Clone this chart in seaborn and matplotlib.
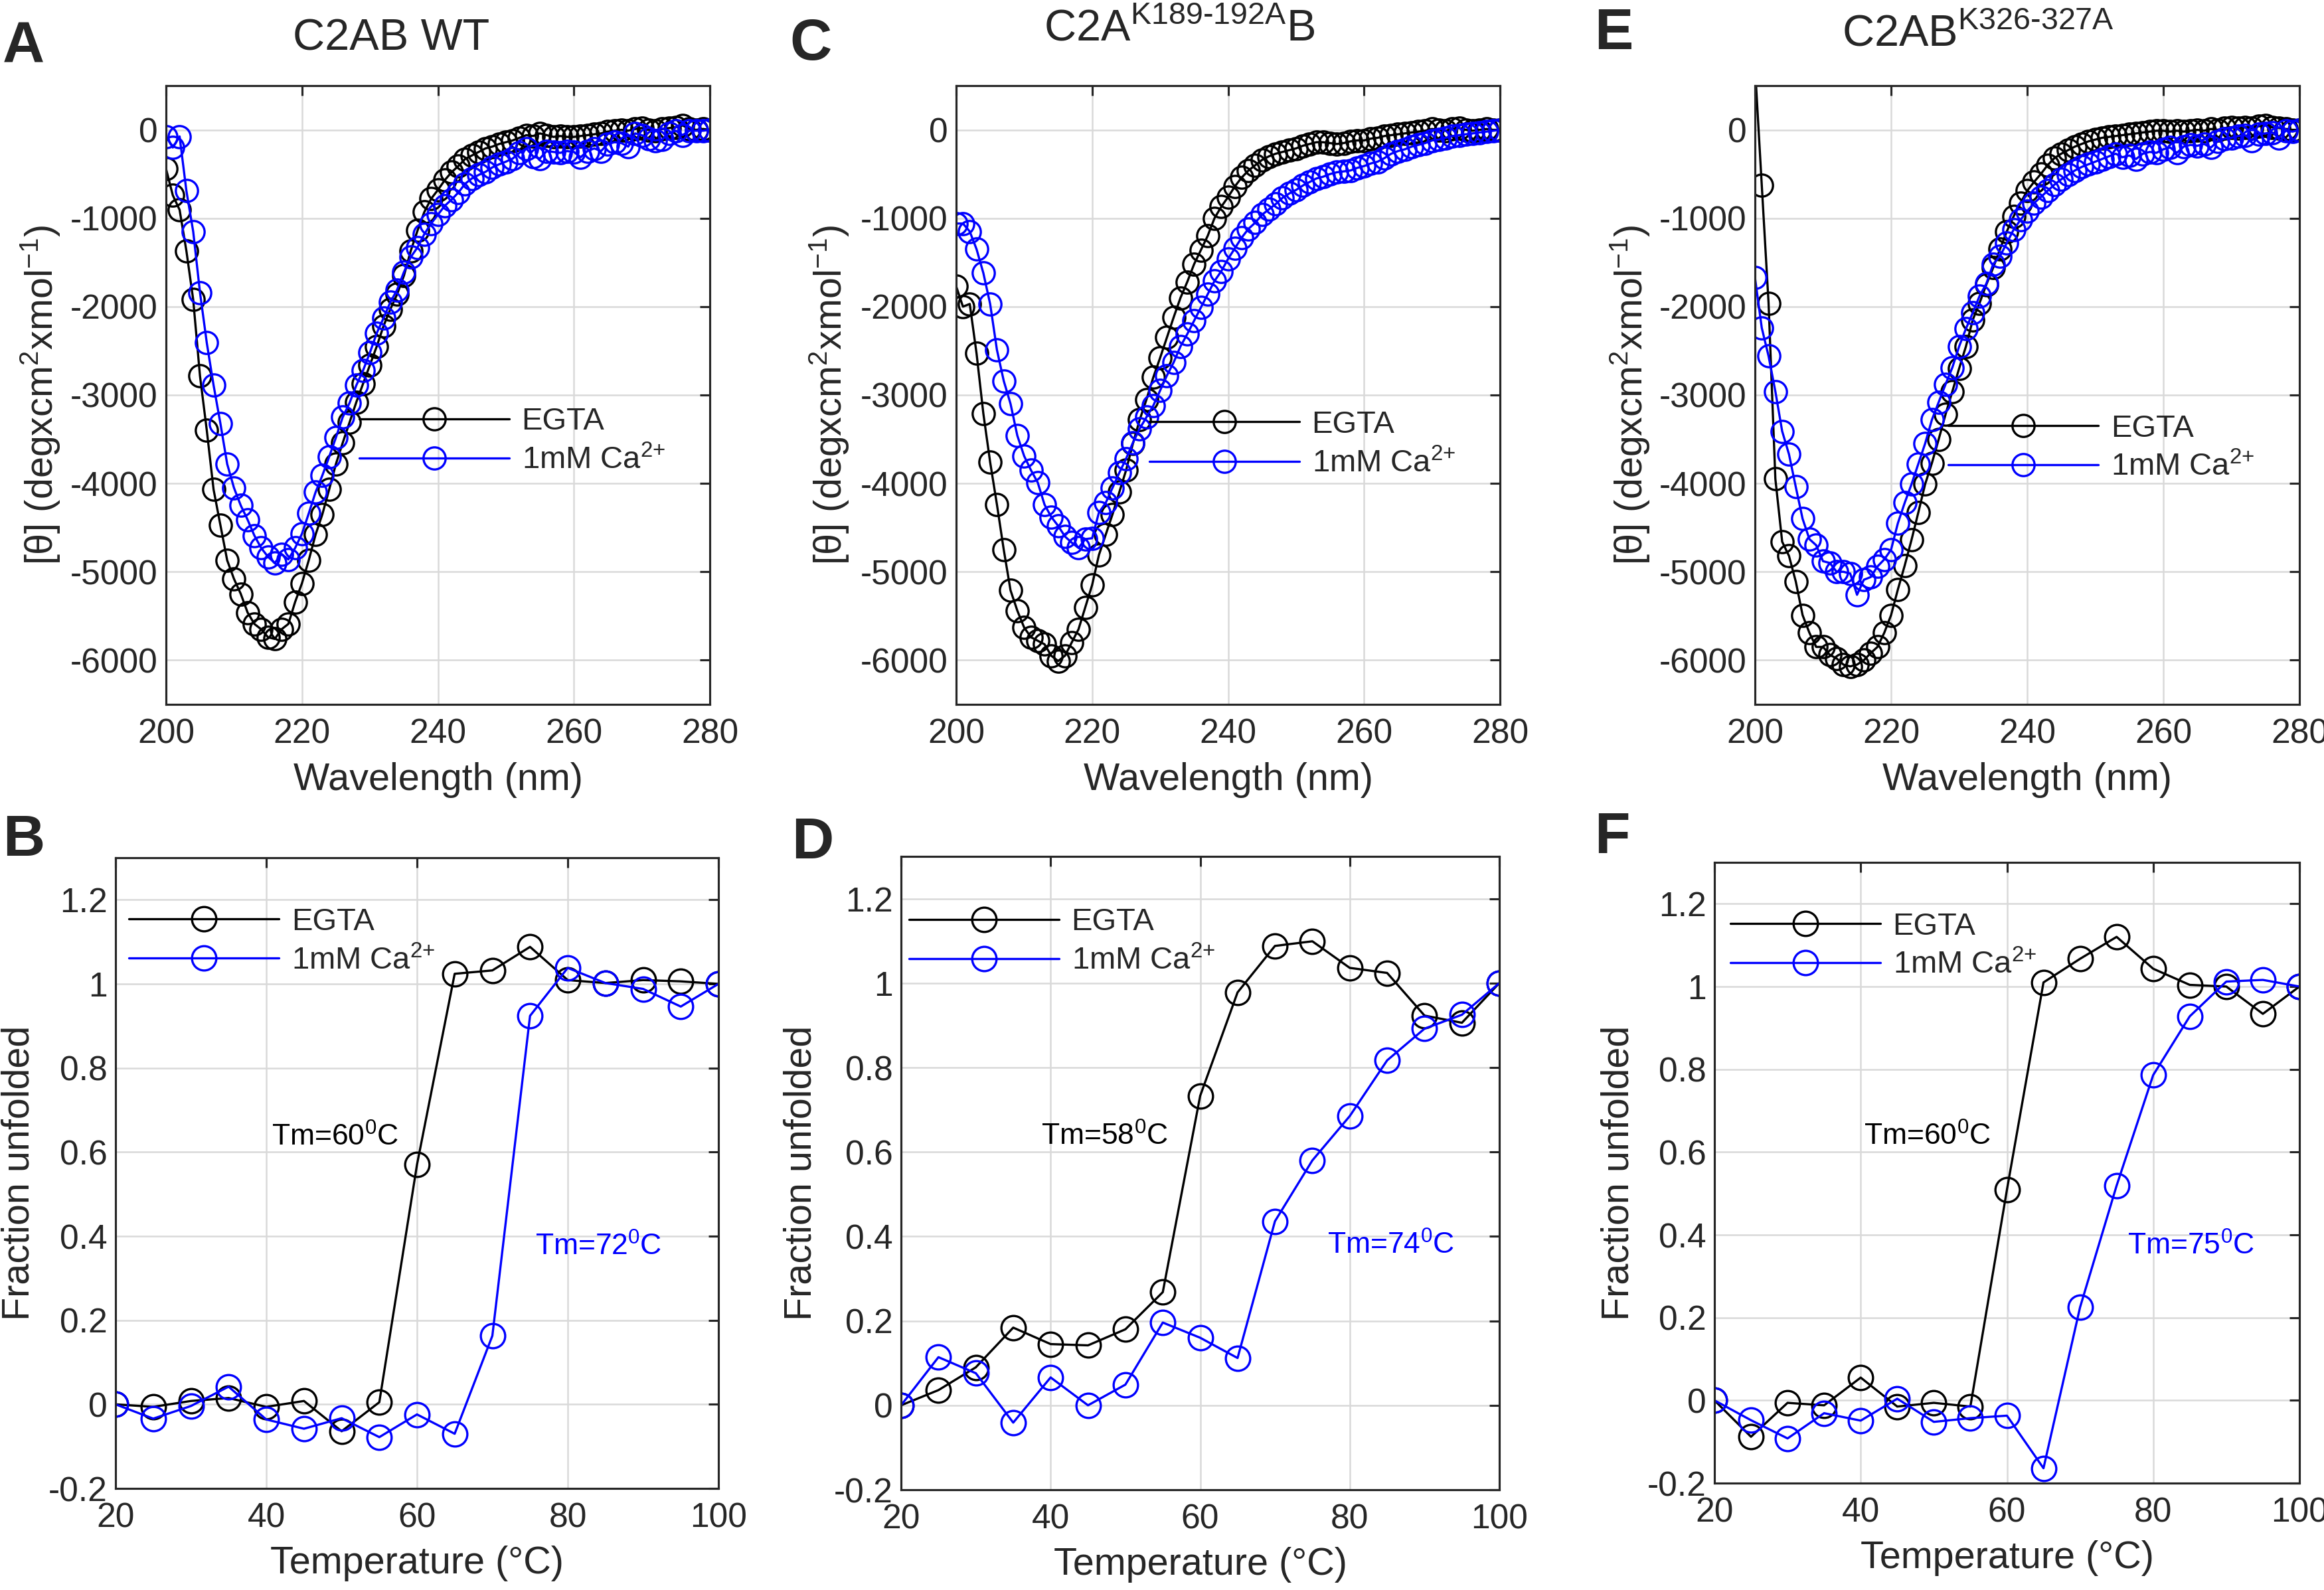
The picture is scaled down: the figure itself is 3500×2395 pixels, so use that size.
import matplotlib
matplotlib.use("Agg")
import matplotlib.pyplot as plt
import seaborn as sns

# ---- data ----
wavelength = list(range(200, 281))
temperature = list(range(20, 101, 5))

# CD spectra, [theta] in deg cm2 dmol-1 (200..280 nm, 1 nm step)
cd_wt_egta = [
    -440, -740, -905, -1370, -1920, -2785, -3400, -4070, -4470, -4870,
    -5080, -5250, -5460, -5590, -5650, -5740, -5760, -5650, -5590, -5340,
    -5130, -4870, -4580, -4350, -4070, -3780, -3540, -3310, -3080, -2870,
    -2660, -2450, -2220, -2030, -1860, -1650, -1370, -1140, -930, -780,
    -680, -570, -480, -410, -330, -290, -250, -210, -190, -160,
    -140, -120, -90, -60, -70, -40, -60, -80, -70, -80,
    -80, -70, -60, -50, -40, -20, -10, 0, -10, 10,
    20, 0, -10, 10, 20, 30, 50, 10, 0, 10,
    0]
cd_wt_ca = [
    -75, -200, -75, -690, -1150, -1840, -2410, -2890, -3320, -3780,
    -4050, -4250, -4410, -4590, -4730, -4830, -4900, -4800, -4860, -4730,
    -4570, -4340, -4100, -3910, -3700, -3480, -3250, -3090, -2890, -2720,
    -2520, -2300, -2130, -1950, -1810, -1610, -1440, -1330, -1180, -1060,
    -960, -860, -790, -710, -610, -550, -510, -475, -425, -390,
    -360, -325, -260, -210, -300, -325, -240, -250, -260, -240,
    -250, -310, -240, -210, -240, -160, -140, -150, -190, -40,
    -60, -100, -120, -110, -40, -10, -60, -10, -10, -10,
    0]
cd_k189_egta = [
    -1770, -2000, -1970, -2530, -3210, -3760, -4240, -4750, -5210, -5440,
    -5630, -5740, -5780, -5820, -5950, -6010, -5950, -5800, -5650, -5400,
    -5150, -4810, -4580, -4350, -4100, -3850, -3550, -3280, -3050, -2800,
    -2580, -2350, -2120, -1900, -1720, -1520, -1360, -1200, -1000, -870,
    -760, -640, -540, -460, -400, -340, -300, -270, -250, -230,
    -210, -180, -160, -140, -140, -150, -160, -150, -130, -120,
    -120, -100, -90, -70, -60, -50, -40, -30, -20, -10,
    10, 0, -10, 10, 20, 0, -10, 0, 10, 0,
    0]
cd_k189_ca = [
    -1060, -1060, -1150, -1350, -1620, -1970, -2490, -2840, -3100, -3460,
    -3690, -3850, -3990, -4240, -4380, -4480, -4600, -4670, -4730, -4630,
    -4620, -4330, -4220, -4050, -3880, -3720, -3540, -3380, -3250, -3120,
    -2950, -2780, -2630, -2450, -2310, -2160, -2010, -1860, -1710, -1600,
    -1460, -1340, -1220, -1120, -1050, -960, -900, -840, -770, -720,
    -680, -630, -590, -550, -530, -500, -480, -470, -460, -430,
    -410, -380, -360, -320, -270, -240, -220, -190, -170, -150,
    -120, -110, -90, -70, -60, -50, -40, -30, -20, -10,
    0]
cd_k326_egta = [
    720, -625, -1960, -3950, -4660, -4820, -5110, -5490, -5690, -5850,
    -5850, -5940, -5980, -6050, -6070, -6050, -6000, -5920, -5850, -5690,
    -5490, -5200, -4930, -4640, -4330, -4010, -3770, -3500, -3220, -2960,
    -2700, -2450, -2150, -1960, -1750, -1560, -1350, -1150, -980, -830,
    -690, -590, -500, -400, -320, -270, -230, -190, -160, -130,
    -110, -90, -80, -70, -60, -50, -40, -30, -20, -10,
    -10, -20, -10, -20, -10, 0, -10, 10, 0, 20,
    30, 20, 30, 20, 40, 50, 30, 20, 10, 0,
    0]
cd_k326_ca = [
    -1670, -2240, -2560, -2960, -3410, -3670, -4040, -4400, -4630, -4700,
    -4880, -4900, -5000, -5000, -5020, -5260, -5090, -5060, -4940, -4860,
    -4750, -4450, -4220, -4010, -3780, -3550, -3280, -3080, -2880, -2690,
    -2450, -2250, -2070, -1880, -1740, -1520, -1430, -1280, -1130, -1020,
    -920, -830, -760, -690, -620, -560, -510, -460, -420, -390,
    -360, -330, -300, -270, -310, -290, -330, -270, -250, -260,
    -220, -200, -260, -190, -170, -180, -160, -200, -130, -100,
    -90, -70, -60, -120, -50, -40, -30, -90, -10, -20,
    0]

# thermal melts, fraction unfolded (20..100 C, 5 C step)
fu_wt_egta = [0, -0.006, 0.008, 0.015, -0.006, 0.008, -0.064, 0.005, 0.570,
              1.024, 1.032, 1.088, 1.009, 1.002, 1.009, 1.006, 1.0]
fu_wt_ca = [0, -0.034, -0.004, 0.042, -0.036, -0.058, -0.033, -0.078, -0.024,
            -0.070, 0.163, 0.924, 1.038, 1.002, 0.988, 0.946, 1.0]
fu_k189_egta = [0, 0.036, 0.090, 0.184, 0.145, 0.142, 0.180, 0.268, 0.733,
                0.978, 1.088, 1.099, 1.036, 1.024, 0.923, 0.906, 1.0]
fu_k189_ca = [0, 0.114, 0.076, -0.041, 0.066, 0.0, 0.049, 0.196, 0.160,
              0.112, 0.436, 0.580, 0.685, 0.817, 0.892, 0.925, 1.0]
fu_k326_egta = [0, -0.088, -0.006, -0.012, 0.055, -0.015, -0.006, -0.015, 0.509,
                1.010, 1.067, 1.120, 1.043, 1.004, 1.0, 0.934, 1.0]
fu_k326_ca = [0, -0.048, -0.092, -0.031, -0.049, 0.004, -0.052, -0.043, -0.037,
              -0.164, 0.225, 0.519, 0.786, 0.928, 1.012, 1.016, 1.0]

titles = ["C2AB WT",
          "C2A$\\mathregular{^{K189\u2010192A}}$B",
          "C2AB$\\mathregular{^{K326\u2010327A}}$"]
tm_egta = ["Tm=60$\\mathregular{^0}$C", "Tm=58$\\mathregular{^0}$C", "Tm=60$\\mathregular{^0}$C"]
tm_ca = ["Tm=72$\\mathregular{^0}$C", "Tm=74$\\mathregular{^0}$C", "Tm=75$\\mathregular{^0}$C"]
series_labels = ["EGTA", "1mM Ca$\\mathregular{^{2{+}}}$"]

# ---- style ----
sns.set_style("white")
plt.rcParams['font.family'] = ['Liberation Sans', 'DejaVu Sans']
plt.rcParams['mathtext.fontset'] = 'custom'
plt.rcParams['mathtext.rm'] = 'Liberation Sans'
plt.rcParams['mathtext.it'] = 'Liberation Sans:italic'
plt.rcParams['mathtext.bf'] = 'Liberation Sans:bold'
plt.rcParams['axes.unicode_minus'] = False

W, H = 3500, 2395
fig = plt.figure(figsize=(W / 300, H / 300), dpi=300)


def box(l, t, r, b):
    return [l / W, 1 - b / H, (r - l) / W, (b - t) / H]


def style(ax):
    for s in ax.spines.values():
        s.set_visible(True)
        s.set_color('#262626')
        s.set_linewidth(0.75)
    ax.grid(True, color='#d9d9d9', linewidth=0.6)
    ax.set_axisbelow(True)
    ax.tick_params(direction='in', top=True, right=True, length=3.5, width=0.75,
                   colors='#262626', labelsize=12.4)
    ax.tick_params(axis='x', pad=5)
    ax.tick_params(axis='y', pad=3)


def draw(ax, x, y1, y2, ms):
    common = dict(marker='o', markersize=ms, markerfacecolor='none',
                  markeredgewidth=0.8, linewidth=0.8, sort=False, ax=ax)
    sns.lineplot(x=x, y=y1, color='black', markeredgecolor='black',
                 label=series_labels[0], **common)
    sns.lineplot(x=x, y=y2, color='blue', markeredgecolor='blue',
                 label=series_labels[1], **common)


top_boxes = [(250, 129, 1069, 1061), (1440, 129, 2259, 1061), (2643, 129, 3463, 1061)]
bot_boxes = [(174, 1292, 1082, 2242), (1357, 1290, 2258, 2244), (2582, 1299, 3463, 2234)]
cd_data = [(cd_wt_egta, cd_wt_ca), (cd_k189_egta, cd_k189_ca), (cd_k326_egta, cd_k326_ca)]
fu_data = [(fu_wt_egta, fu_wt_ca), (fu_k189_egta, fu_k189_ca), (fu_k326_egta, fu_k326_ca)]
top_ylab_x = [-0.19, -0.193, -0.189]
bot_ylab_x = [-0.13, -0.137, -0.133]
top_leg = [(0.355, 0.425), (0.355, 0.42), (0.355, 0.414)]
bot_leg = [(0.022, 0.867), (0.013, 0.865), (0.027, 0.865)]
tm_egta_pos = [(40.7, 0.615), (38.7, 0.616), (40.4, 0.617)]
tm_ca_pos = [(75.7, 0.355), (77.0, 0.358), (76.5, 0.353)]
title_pos = [(589, 76), (1776, 61), (2979, 69)]
top_letters = [("A", 4, 31), ("C", 1189, 27), ("E", 2401, 11)]
bot_letters = [("B", 4, 1226), ("D", 1192, 1230), ("F", 2401, 1222)]

for i in range(3):
    # CD spectra
    ax = fig.add_axes(box(*top_boxes[i]))
    style(ax)
    draw(ax, wavelength, cd_data[i][0], cd_data[i][1], 8)
    ax.set_xlim(200, 280)
    ax.set_ylim(-6500, 500)
    ax.set_xticks([200, 220, 240, 260, 280])
    ax.set_yticks([-6000, -5000, -4000, -3000, -2000, -1000, 0])
    ax.set_xlabel("Wavelength (nm)", fontsize=13.8, labelpad=4)
    ax.set_ylabel(r"[θ] (degxcm$\mathregular{^2}$xmol$\mathregular{^{-1}}$)", fontsize=13.8)
    ax.yaxis.set_label_coords(top_ylab_x[i], 0.5)
    ax.legend(loc='center left', bbox_to_anchor=top_leg[i], frameon=False,
              fontsize=11.3, handlelength=4.8, handletextpad=0.4, borderpad=0,
              borderaxespad=0, labelspacing=0.3)
    fig.text(title_pos[i][0] / W, 1 - title_pos[i][1] / H, titles[i],
             fontsize=16, ha='center', va='baseline')

    # thermal melts
    ax = fig.add_axes(box(*bot_boxes[i]))
    style(ax)
    draw(ax, temperature, fu_data[i][0], fu_data[i][1], 8.8)
    ax.set_xlim(20, 100)
    ax.set_ylim(-0.2, 1.3)
    ax.set_xticks([20, 40, 60, 80, 100])
    ax.set_yticks([-0.2, 0, 0.2, 0.4, 0.6, 0.8, 1.0, 1.2])
    ax.yaxis.set_major_formatter(matplotlib.ticker.FormatStrFormatter('%g'))
    ax.set_xlabel("Temperature (°C)", fontsize=13.8, labelpad=4)
    ax.set_ylabel("Fraction unfolded", fontsize=13.8)
    ax.yaxis.set_label_coords(bot_ylab_x[i], 0.5)
    ax.legend(loc='center left', bbox_to_anchor=bot_leg[i], frameon=False,
              fontsize=11.3, handlelength=4.8, handletextpad=0.4, borderpad=0,
              borderaxespad=0, labelspacing=0.3)
    ax.text(*tm_egta_pos[i], tm_egta[i], fontsize=10.7, color='black', va='baseline')
    ax.text(*tm_ca_pos[i], tm_ca[i], fontsize=10.7, color='blue', va='baseline')

for letter, x, y in top_letters + bot_letters:
    fig.text(x / W, 1 - y / H, letter, fontsize=21, fontweight='bold',
             ha='left', va='top')

fig.savefig("out.png", dpi=300)
